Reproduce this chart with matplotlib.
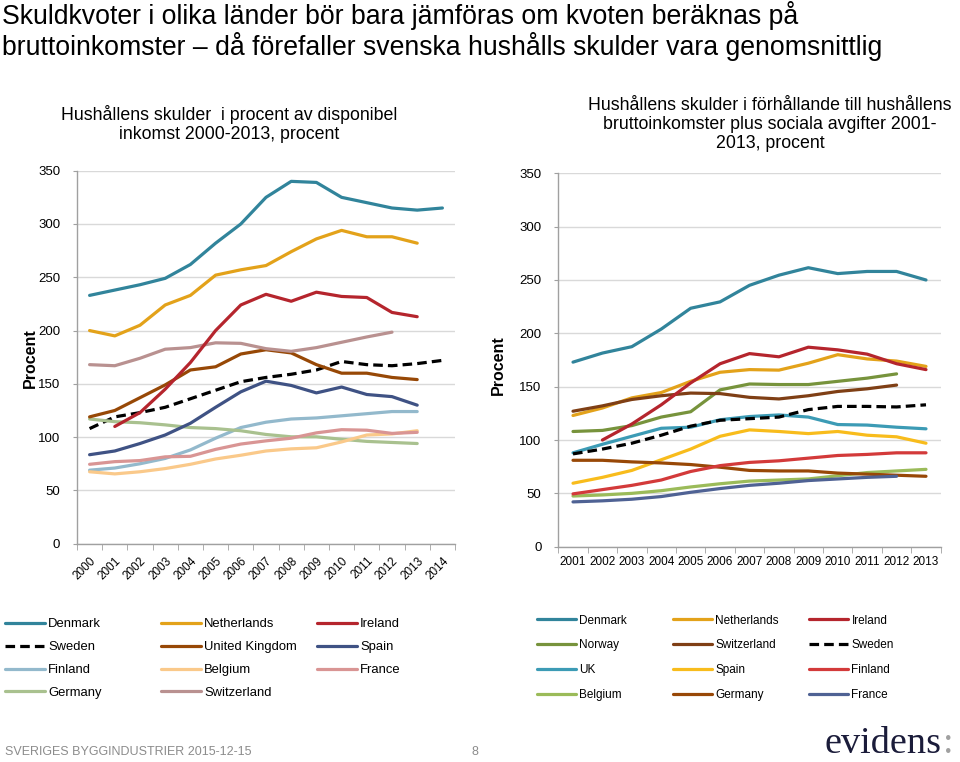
import numpy as np
import matplotlib
matplotlib.use("Agg")
import matplotlib.pyplot as plt
from matplotlib.ticker import FixedLocator, NullFormatter

plt.rcParams['font.family'] = ['Liberation Sans', 'DejaVu Sans']

nan = np.nan

# --- left chart: debt in % of disposable income, 2000-2014 ---
years_l = [str(y) for y in range(2000, 2015)]
denmark_l = [233, 238, 243, 249, 262, 282, 300, 325, 340, 339, 325, 320, 315, 313, 315]
sweden_l = [108, 119, 123, 128, 136, 144, 152, 156, 159, 163, 171, 168, 167, 169, 172]
finland_l = [69, 71, 75, 80, 88, 99, 109, 114, 117, 118, 120, 122, 124, 124, nan]
germany_l = [117, 114.5, 113.5, 111.5, 109, 108, 106, 102.5, 100.3, 100.3, 98, 96, 95, 94, nan]
netherlands_l = [200, 195, 205, 224, 233, 252, 257, 261, 274, 286, 294, 288, 288, 282, nan]
uk_l = [119, 125, 137, 149, 163, 166, 178, 182, 179, 168, 160, 160, 156, 154, nan]
belgium_l = [67.5, 65.5, 67.5, 70.5, 74.5, 79.5, 83, 87, 89, 90, 95.5, 102, 103, 106, nan]
switzerland_l = [168, 167, 174, 182.5, 184, 188.5, 188, 183, 180.5, 184, 189, 194, 198.5, nan, nan]
ireland_l = [nan, 110, 123, 145, 170, 200, 224, 234, 227.5, 236, 232, 231, 217, 213, nan]
spain_l = [83.5, 87, 94, 102, 113, 128, 142.5, 152.5, 148.5, 141.5, 147, 140, 138, 130, nan]
france_l = [74.5, 77, 78, 81.5, 82, 88.5, 93.5, 96.5, 99, 104, 107, 106.5, 103.5, 104.5, nan]

# --- right chart: debt relative to gross income + social fees, 2001-2013 ---
years_r = [str(y) for y in range(2001, 2014)]
denmark_r = [173, 181.5, 187.5, 204, 223.5, 229.5, 245, 254.5, 261.5, 256, 258, 258, 250]
norway_r = [108, 109, 113.5, 121.5, 126.5, 147, 152.5, 152, 152, 155, 158, 162, nan]
uk_r = [88, 96, 103.5, 111, 112, 119, 122, 123.5, 121.5, 114.5, 114, 112, 110.5]
belgium_r = [47.5, 48.5, 50, 52.5, 56, 59, 61.5, 62.5, 63.5, 66.5, 69.5, 71, 72.5]
netherlands_r = [123, 130, 139.5, 144.5, 155, 163.5, 166, 165.5, 172, 180, 176, 174, 169]
switzerland_r = [127, 132, 138, 141.5, 144, 143.5, 140, 138.5, 141.5, 145.5, 148, 151.5, nan]
spain_r = [59.5, 65, 71.5, 81.5, 91.5, 103.5, 109.5, 108, 106, 108, 104.5, 103, 97]
germany_r = [81, 81, 79.5, 78.5, 77, 74.5, 71.5, 71, 71, 69, 68, 67, 66]
ireland_r = [nan, 100, 115, 133, 153.5, 171.5, 181, 178, 187, 184.5, 180.5, 171.5, 166]
sweden_r = [87, 91.5, 97, 104.5, 113, 118.5, 120, 121.5, 128.5, 131.5, 131.5, 131, 133]
finland_r = [49.5, 53.5, 57.5, 62.5, 70.5, 76, 79, 80.5, 83, 85.5, 86.5, 88, 88]
france_r = [42, 43, 44.5, 47, 51, 54.5, 57.5, 59.5, 62, 63.5, 65, 66, nan]

# legend columns (column-major, as the slide reads row by row)
series_l = [
    [("Denmark", denmark_l, '#31849B'), ("Sweden", sweden_l, 'black'),
     ("Finland", finland_l, '#93B9CC'), ("Germany", germany_l, '#A9C18F')],
    [("Netherlands", netherlands_l, '#E3A21A'), ("United Kingdom", uk_l, '#974806'),
     ("Belgium", belgium_l, '#FAC98A'), ("Switzerland", switzerland_l, '#B99190')],
    [("Ireland", ireland_l, '#B5252D'), ("Spain", spain_l, '#3F5284'),
     ("France", france_l, '#D99594')],
]
series_r = [
    [("Denmark", denmark_r, '#31849B'), ("Norway", norway_r, '#77933C'),
     ("UK", uk_r, '#3C9BB5'), ("Belgium", belgium_r, '#9BBB59')],
    [("Netherlands", netherlands_r, '#E3A21A'), ("Switzerland", switzerland_r, '#7F3F15'),
     ("Spain", spain_r, '#F8BC1C'), ("Germany", germany_r, '#984807')],
    [("Ireland", ireland_r, '#B5252D'), ("Sweden", sweden_r, 'black'),
     ("Finland", finland_r, '#D33A3A'), ("France", france_r, '#4F6294')],
]

LW = 2.3
DASH = (0, (3.0, 1.6))
GRID = '#D9D9D9'
AXC = '#A0A0A0'

fig = plt.figure(figsize=(9.6, 7.62), dpi=100)
W, H = 960, 762


def box(x0, y0, x1, y1):
    return [x0 / W, 1 - y1 / H, (x1 - x0) / W, (y1 - y0) / H]


def style(ax, n):
    ax.set_xlim(-0.5, n - 0.5)
    ax.set_ylim(0, 350)
    ax.set_yticks(range(0, 351, 50))
    ax.yaxis.grid(True, color=GRID, lw=1)
    ax.set_axisbelow(True)
    for s in ['top', 'right']:
        ax.spines[s].set_visible(False)
    for s in ['left', 'bottom']:
        ax.spines[s].set_color(AXC)
        ax.spines[s].set_linewidth(1)
    ax.xaxis.set_minor_locator(FixedLocator(np.arange(-0.5, n, 1)))
    ax.xaxis.set_minor_formatter(NullFormatter())
    ax.tick_params(axis='x', which='minor', length=4, color=AXC, direction='out')
    ax.tick_params(axis='x', which='major', length=0)
    ax.tick_params(axis='y', length=3, color=AXC, labelsize=9.5, pad=9)


def draw(ax, cols):
    handles = []
    for col in cols:
        hs = []
        for name, vals, c in col:
            ls = DASH if c == 'black' else '-'
            ln, = ax.plot(range(len(vals)), vals, color=c, lw=LW, ls=ls,
                          solid_capstyle='round', label=name)
            hs.append(ln)
        handles.append(hs)
    return handles


ax1 = fig.add_axes(box(77, 170.7, 455, 543.7))
style(ax1, len(years_l))
h1 = draw(ax1, series_l)
ax1.set_xticks(range(len(years_l)))
ax1.set_xticklabels(years_l, rotation=45, ha='right', va='top',
                    rotation_mode='anchor', fontsize=8.5)
ax1.tick_params(axis='x', which='major', pad=8)

ax2 = fig.add_axes(box(558.3, 173.3, 940.7, 546.7))
style(ax2, len(years_r))
h2 = draw(ax2, series_r)
ax2.set_xticks(range(len(years_r)))
ax2.set_xticklabels(years_r, fontsize=8.5)
ax2.tick_params(axis='x', which='major', pad=7)

fig.text(30 / W, 1 - 358 / H, "Procent", rotation=90, fontsize=11.5,
         fontweight='bold', ha='center', va='center')
fig.text(498 / W, 1 - 365 / H, "Procent", rotation=90, fontsize=11.5,
         fontweight='bold', ha='center', va='center')

fig.text(2 / W, 0.999,
         "Skuldkvoter i olika länder bör bara jämföras om kvoten beräknas på\n"
         "bruttoinkomster – då förefaller svenska hushålls skulder vara genomsnittlig",
         fontsize=19.2, ha='left', va='top', linespacing=1.1)
fig.text(229 / W, 1 - 105.5 / H,
         "Hushållens skulder  i procent av disponibel\ninkomst 2000-2013, procent",
         fontsize=12.8, ha='center', va='top', linespacing=1.15)
fig.text(770 / W, 1 - 97 / H,
         "Hushållens skulder i förhållande till hushållens\n"
         "bruttoinkomster plus sociala avgifter 2001-\n2013, procent",
         fontsize=12.8, ha='center', va='top', linespacing=1.15)

# legends, one per column
for hs, x in zip(h1, [5, 161, 317]):
    fig.legend(handles=hs, loc='upper left', bbox_to_anchor=(x / W, 1 - 618 / H),
               frameon=False, fontsize=9.4, handlelength=3.05, handletextpad=0.25,
               labelspacing=0.83, borderpad=0, borderaxespad=0)
for hs, x in zip(h2, [537, 673, 809]):
    fig.legend(handles=hs, loc='upper left', bbox_to_anchor=(x / W, 1 - 614.5 / H),
               frameon=False, fontsize=8.5, handlelength=3.3, handletextpad=0.3,
               labelspacing=1.08, borderpad=0, borderaxespad=0)

# footer
fig.text(5 / W, 1 - 752 / H, "SVERIGES BYGGINDUSTRIER 2015-12-15", fontsize=9,
         color='#8C8C8C', ha='left', va='center')
fig.text(475 / W, 1 - 752 / H, "8", fontsize=9, color='#8C8C8C', ha='center', va='center')
fig.text(825 / W, 1 / H, "evidens", fontsize=27.5, color='#1B1C3A',
         family='Liberation Serif', ha='left', va='bottom')
fig.text(943 / W, 1 / H, ":", fontsize=27.5, color='#A0A0A0',
         family='Liberation Serif', ha='left', va='bottom')

fig.savefig("out.png", dpi=100)
